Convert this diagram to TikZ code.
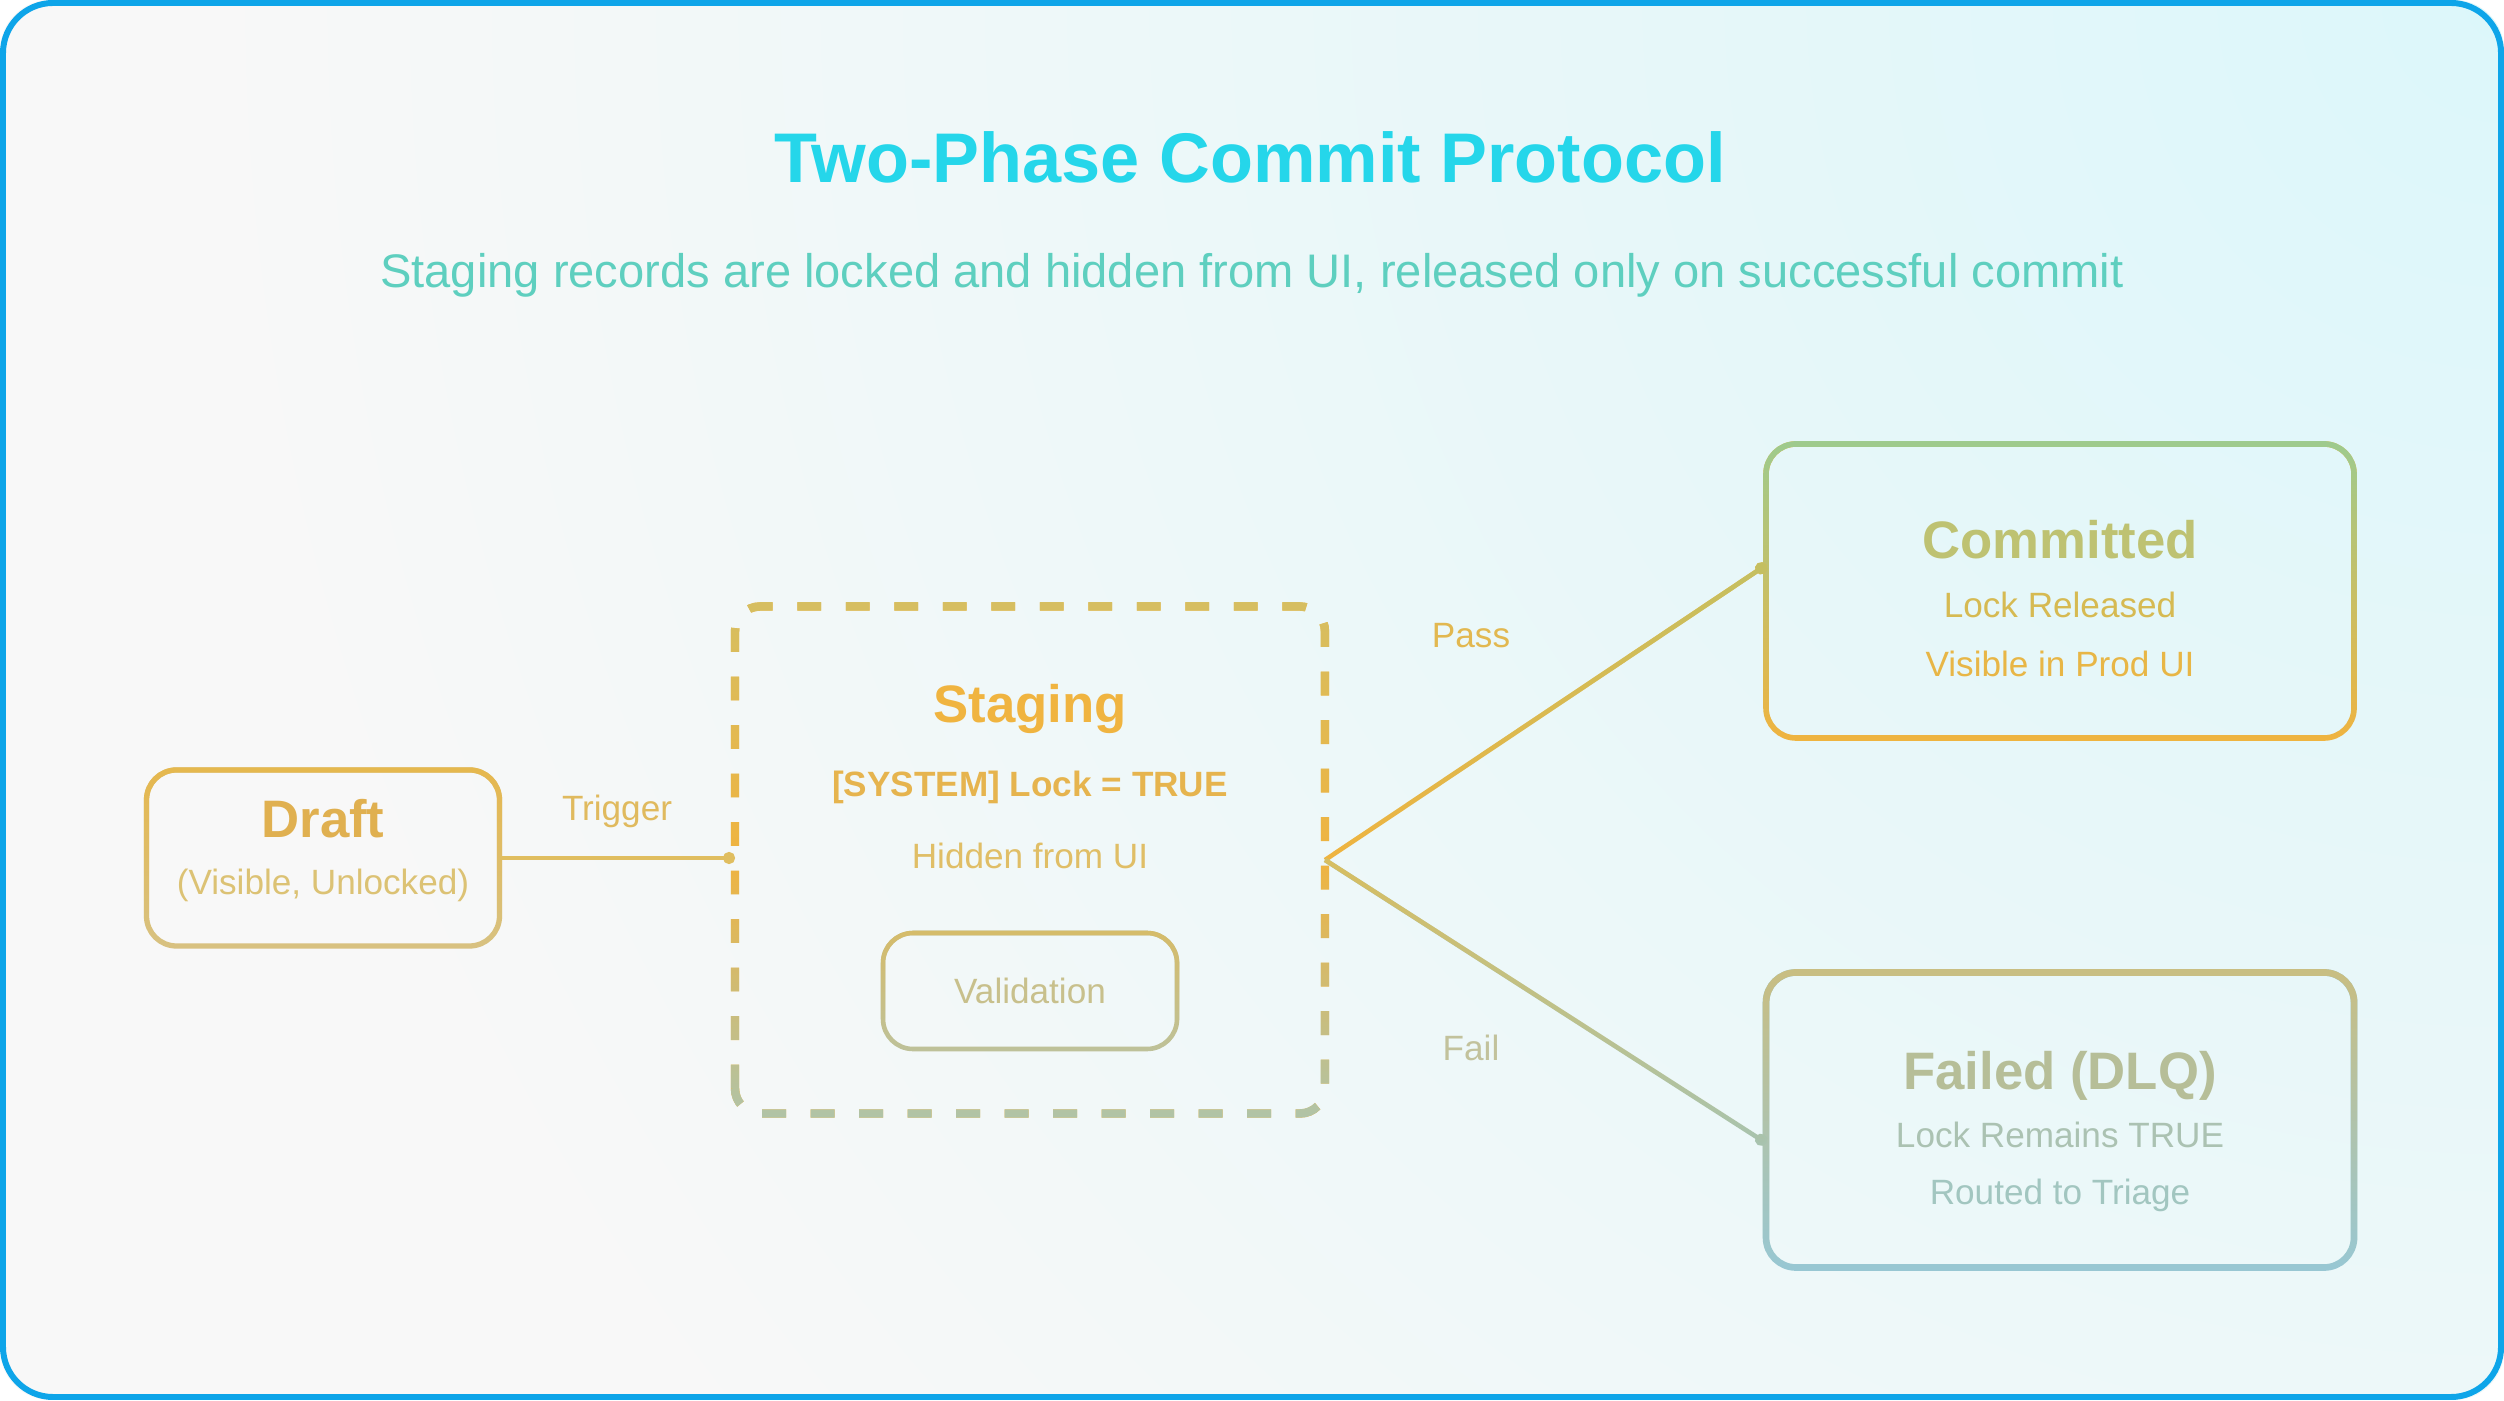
\documentclass[tikz,border=0pt]{standalone}
\usepackage{fontspec}
\setmainfont{Liberation Sans}
\usepackage{xcolor}
\usepackage{tikz}
\usetikzlibrary{arrows.meta, positioning, fadings}

\definecolor{frameblue}{HTML}{0EA5E9}
\definecolor{bgwhite}{HTML}{F8F8F8}
\definecolor{bgcyan}{HTML}{DCF7FA}
\definecolor{titlecyan}{HTML}{25D6EA}
\definecolor{subteal}{HTML}{5ECFBF}
\definecolor{amber}{HTML}{F0B440}
\definecolor{gold}{HTML}{E6B84E}
\definecolor{goldpale}{HTML}{D8C282}
\definecolor{olive}{HTML}{D6BF62}
\definecolor{sage}{HTML}{B0C4A8}
\definecolor{leaf}{HTML}{9ECB8E}
\definecolor{khaki}{HTML}{C9BE82}
\definecolor{mist}{HTML}{98C8D4}
\definecolor{valtop}{HTML}{D6BC6A}
\definecolor{valbot}{HTML}{BEC29A}
\definecolor{valtext}{HTML}{C8C08C}
\definecolor{drafttext}{HTML}{E0B050}
\definecolor{draftsub}{HTML}{DCC274}
\definecolor{locktext}{HTML}{E6B44E}
\definecolor{hidetext}{HTML}{E0BE66}
\definecolor{comtext}{HTML}{BEC272}
\definecolor{reltext}{HTML}{D6BA52}
\definecolor{vistext}{HTML}{E8B646}
\definecolor{failtext}{HTML}{B6BE98}
\definecolor{remtext}{HTML}{ABC2B2}
\definecolor{routetext}{HTML}{A2C6C0}
\definecolor{trigline}{HTML}{E0BE60}
\definecolor{passtop}{HTML}{C4C062}
\definecolor{failtop}{HTML}{D8BE60}
\definecolor{failbot}{HTML}{A8C4B0}
\definecolor{trigtext}{HTML}{E0BA5E}
\definecolor{passtext}{HTML}{E2B850}
\definecolor{failtag}{HTML}{C2C29C}

\tikzfading[name=fadetop, top color=transparent!0, bottom color=transparent!100]
\tikzfading[name=topband, top color=transparent!0, bottom color=transparent!100, middle color=transparent!100]
\tikzfading[name=bottomband, top color=transparent!100, bottom color=transparent!0, middle color=transparent!100]

\begin{document}
\begin{tikzpicture}[
    box/.style={rectangle, rounded corners=0.3cm, inner sep=0pt, outer sep=0pt},
    dashrim/.style={line width=2.4pt, rounded corners=0.25cm, dash pattern=on 6.8pt off 7pt},
    rim/.style={rounded corners=0.3cm},
    ttl/.style={font=\fontsize{15}{18}\selectfont\bfseries},
    txt/.style={font=\fontsize{10}{12}\selectfont},
    tag/.style={font=\fontsize{10}{12}\selectfont},
    arrow/.style={line width=1.3pt, -{Circle[length=3.4pt]}},
]
\useasboundingbox (0,0) rectangle (25.04,14);

% Canvas
\begin{scope}
  \clip[rounded corners=0.5cm] (0,0) rectangle (25.04,14);
  \fill[bgwhite] (0,0) rectangle (25.04,14);
  \shade[inner color=bgcyan, outer color=bgwhite] (25.04,14) circle (23);
\end{scope}
\draw[frameblue, line width=1.7pt, rounded corners=0.5cm] (0.03,0.03) rectangle (25.01,13.97);

% Heading
\node[font=\fontsize{20}{24}\selectfont\bfseries, text=titlecyan] (title) at (12.50,12.43) {Two-Phase Commit Protocol};
\node[font=\fontsize{13.4}{16}\selectfont, text=subteal] (subtitle) at (12.52,11.25) {Staging records are locked and hidden from UI, released only on successful commit};

% State boxes
\node[box, draw=goldpale, line width=1.5pt, minimum width=3.53cm, minimum height=1.76cm] (draft) at (3.23,5.42) {};
\node[box, minimum width=5.90cm, minimum height=5.07cm] (staging) at (10.30,5.40) {};
\node[box, draw=valbot, line width=1.3pt, minimum width=2.94cm, minimum height=1.16cm, txt, text=valtext] (valid) at (10.30,4.09) {Validation};
\node[box, draw=amber, line width=1.6pt, minimum width=5.88cm, minimum height=2.94cm] (committed) at (20.60,8.09) {};
\node[box, draw=mist, line width=1.9pt, minimum width=5.88cm, minimum height=2.95cm] (failed) at (20.60,2.80) {};

% Dashed staging rim, amber in the middle
\draw[amber, dashrim] (staging.south west) rectangle (staging.north east);
\draw[olive, dashrim, path fading=topband] (staging.south west) rectangle (staging.north east);
\draw[sage, dashrim, path fading=bottomband] (staging.south west) rectangle (staging.north east);

% Top colour of each rim, faded in from above
\draw[gold, line width=1.5pt, rim, path fading=fadetop] (draft.south west) rectangle (draft.north east);
\draw[valtop, line width=1.3pt, rim, path fading=fadetop] (valid.south west) rectangle (valid.north east);
\draw[leaf, line width=1.6pt, rim, path fading=fadetop] (committed.south west) rectangle (committed.north east);
\draw[khaki, line width=1.9pt, rim, path fading=fadetop] (failed.south west) rectangle (failed.north east);

% Box texts
\node[ttl, text=drafttext] (draftT) at ([yshift=0.39cm]draft.center) {Draft};
\node[txt, text=draftsub] (draftS) at ([yshift=-0.27cm]draft.center) {(Visible, Unlocked)};

\node[ttl, text=amber] (stagingT) at (10.30,6.91) {Staging};
\node[txt, font=\fontsize{10}{12}\selectfont\bfseries, text=locktext] (stagingL) at (10.30,6.13) {[SYSTEM] Lock = TRUE};
\node[txt, text=hidetext] (stagingH) at (10.30,5.44) {Hidden from UI};

\node[ttl, text=comtext] (committedT) at ([yshift=0.51cm]committed.center) {Committed};
\node[txt, text=reltext] (committedL) at ([yshift=-0.14cm]committed.center) {Lock Released};
\node[txt, text=vistext] (committedV) at ([yshift=-0.73cm]committed.center) {Visible in Prod UI};

\node[ttl, text=failtext] (failedT) at ([yshift=0.44cm]failed.center) {Failed (DLQ)};
\node[txt, text=remtext] (failedL) at ([yshift=-0.15cm]failed.center) {Lock Remains TRUE};
\node[txt, text=routetext] (failedR) at ([yshift=-0.75cm]failed.center) {Routed to Triage};

% Transitions
\draw[arrow, trigline] (draft.east) -- (draft.east -| staging.west);
\draw[arrow, amber] (staging.east) -- ([yshift=0.26cm]committed.west);
\draw[arrow, passtop, path fading=fadetop] (staging.east) -- ([yshift=0.26cm]committed.west);
\draw[arrow, failbot] (staging.east) -- ([yshift=-0.23cm]failed.west);
\draw[arrow, failtop, path fading=fadetop] (staging.east) -- ([yshift=-0.23cm]failed.west);

\node[tag, text=trigtext] (trigL) at (6.17,5.89) {Trigger};
\node[tag, text=passtext] (passL) at (14.71,7.64) {Pass};
\node[tag, text=failtag] (failL) at (14.71,3.52) {Fail};

\end{tikzpicture}
\end{document}
